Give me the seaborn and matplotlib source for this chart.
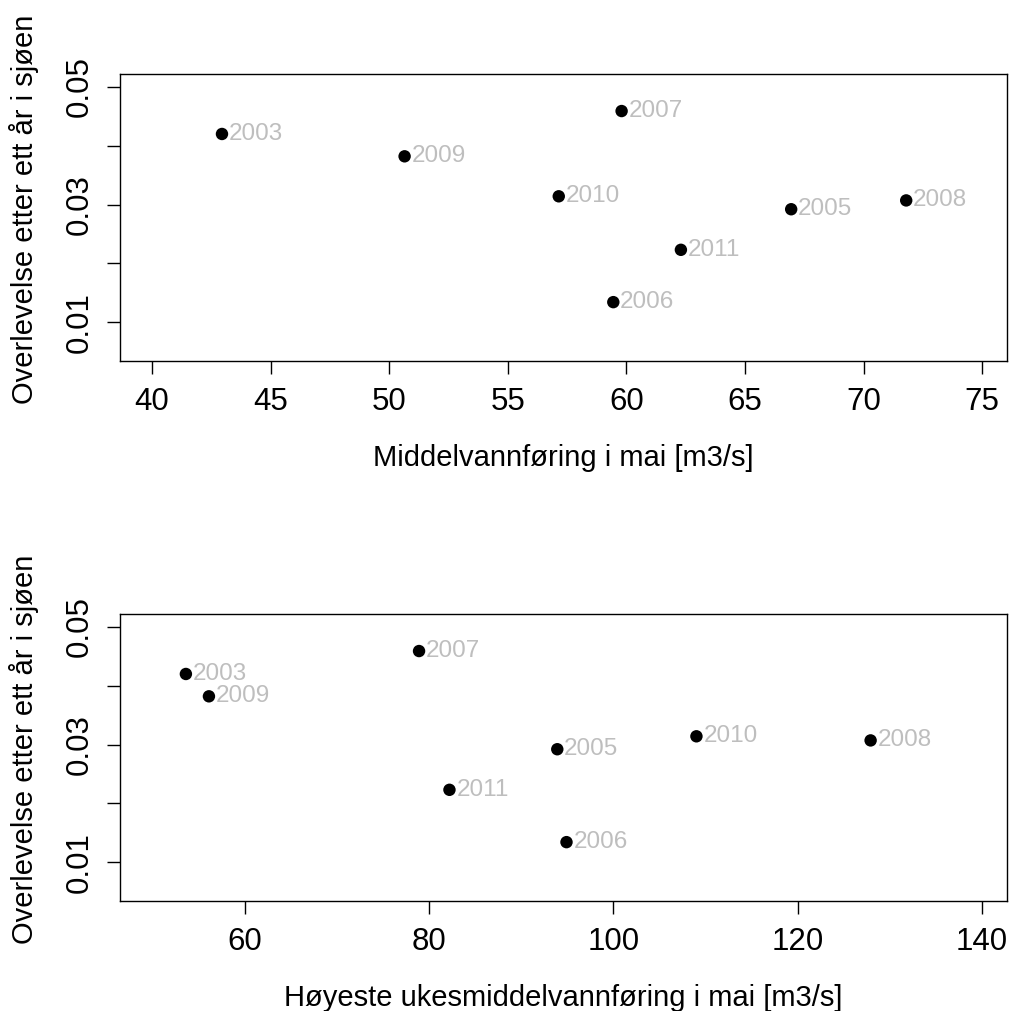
import matplotlib
matplotlib.use("Agg")
import matplotlib.pyplot as plt
import seaborn as sns
import pandas as pd

sns.set_style("white")
plt.rcParams['font.family'] = ['Liberation Sans', 'DejaVu Sans']
plt.rcParams['text.color'] = 'black'
plt.rcParams['axes.labelcolor'] = 'black'
plt.rcParams['xtick.color'] = 'black'
plt.rcParams['ytick.color'] = 'black'

years = ["2003", "2009", "2007", "2010", "2005", "2008", "2011", "2006"]
survival = [0.0420, 0.0382, 0.0459, 0.0314, 0.0292, 0.0307, 0.0223, 0.0134]
mean_flow_may = [42.95, 50.65, 59.8, 57.15, 66.95, 71.8, 62.3, 59.45]
max_week_flow_may = [53.6, 56.1, 78.9, 109.0, 93.9, 127.9, 82.2, 94.9]

xlabels = ["Middelvannføring i mai [m3/s]", "Høyeste ukesmiddelvannføring i mai [m3/s]"]
ylabel = "Overlevelse etter ett år i sjøen"
xticks_top = [40, 45, 50, 55, 60, 65, 70, 75]
xticks_bot = [60, 80, 100, 120, 140]
yticks = [0.01, 0.02, 0.03, 0.04, 0.05]
ytick_labels = ["0.01", "", "0.03", "", "0.05"]

df = pd.DataFrame({"year": years, "surv": survival,
                   "mean": mean_flow_may, "maxw": max_week_flow_may})

W, H = 1009, 1011
fig = plt.figure(figsize=(W / 100, H / 100), dpi=100)
L, R = 120, 1007
ax1 = fig.add_axes([L / W, 1 - 361 / H, (R - L) / W, (361 - 74) / H])
ax2 = fig.add_axes([L / W, 1 - 901 / H, (R - L) / W, (901 - 614) / H])

configs = [(ax1, "mean", (38.65, 76.05), xticks_top, xlabels[0]),
           (ax2, "maxw", (46.45, 142.7), xticks_bot, xlabels[1])]

for ax, col, xlim, xt, xl in configs:
    sns.scatterplot(data=df, x=col, y="surv", ax=ax, color="black",
                    s=80, edgecolor="none", linewidth=0)
    for _, row in df.iterrows():
        ax.annotate(row["year"], (row[col], row["surv"]), xytext=(5, 0),
                    textcoords="offset points", ha="left", va="center",
                    color="#BEBEBE", fontsize=17.5)
    ax.set_xlim(*xlim)
    ax.set_ylim(0.00339, 0.0522)
    ax.set_xticks(xt)
    ax.set_xticklabels([str(v) for v in xt], fontsize=22.5)
    ax.set_yticks(yticks)
    ax.set_yticklabels(ytick_labels, fontsize=22.5, rotation=90, va="center")
    ax.tick_params(direction="out", length=9.5, width=1.0, color="black",
                   pad=9, left=True, bottom=True)
    for sp in ax.spines.values():
        sp.set_visible(True)
        sp.set_color("black")
        sp.set_linewidth(1.0)
    ax.set_xlabel(xl, fontsize=21)
    ax.set_ylabel(ylabel, fontsize=21)
    ax.xaxis.set_label_coords(0.5, -(458 - 361) / 287)
    ax.xaxis.label.set_va("center")
    ax.yaxis.set_label_coords(-(120 - 24) / (R - L), 0.528)
    ax.yaxis.label.set_va("center")

fig.savefig("out.png", dpi=100)
